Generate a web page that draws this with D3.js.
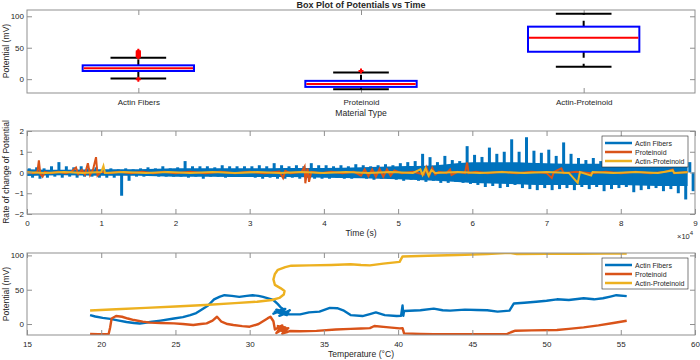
<!DOCTYPE html>
<html>
<head>
<meta charset="utf-8">
<script src="https://cdn.jsdelivr.net/npm/d3@7"></script>
<style>
  body { margin: 0; background: #fff; }
  text { font-family: "Liberation Sans", Arial, sans-serif; fill: #262626; }
</style>
</head>
<body>
<div id="chart"></div>
<script>
// ---- box plot data (mV) ----
const materials = ["Actin Fibers", "Proteinoid", "Actin-Proteinoid"];
const whiskerLow = [1, -16, 19.6];
const q1 = [13, -12.3, 43.6];
const median = [17.5, -7.5, 66];
const q3 = [22, -2.7, 83.5];
const whiskerHigh = [34, 10.7, 104];
const outliers = [[0, 35.5, 37, 38.5, 40, 41.5, 43, 44.5], [12.8], []];

// ---- rate of change: Actin Fibers, peak per 1000 s bin ----
const actinUpper = [
  0.2, 0.25, 0.2, 0.3, 0.5, 0.3, 0.25, 0.3, 0.2, 0.25,
  0.15, 0.2, 0.15, 0.2, 0.15, 0.2, 0.25, 0.2, 0.3, 0.2,
  0.25, 0.55, 0.3, 0.3, 0.3, 0.25, 0.35, 0.3, 0.3, 0.3,
  0.3, 0.35, 0.3, 0.45, 0.35, 0.3, 0.35, 0.3, 0.45, 0.35,
  0.35, 0.3, 0.35, 0.3, 0.4, 0.35, 0.3, 0.35, 0.4, 0.35,
  0.45, 0.5, 0.55, 0.9, 0.74, 0.5, 0.8, 0.6, 0.55, 1.27,
  0.85, 0.75, 1.2, 0.9, 1.0, 1.6, 1.0, 1.7, 1.05, 0.95,
  1.1, 0.8, 1.45, 0.9, 0.7, 0.6, 0.7, 0.55, 0.6, 0.5,
  0.6, 0.7, 0.55, 0.8, 0.6, 0.65, 1.0, 0.7, 0.8, 0.5
];
const actinLower = [
  -0.25, -0.3, -0.25, -0.2, -0.25, -0.2, -0.25, -0.2, -0.2, -0.25,
  -0.25, -0.25, -1.12, -0.4, -0.2, -0.2, -0.15, -0.2, -0.2, -0.2,
  -0.2, -0.25, -0.2, -0.3, -0.2, -0.2, -0.25, -0.2, -0.2, -0.2,
  -0.25, -0.3, -0.25, -0.3, -0.3, -0.25, -0.3, -0.25, -0.3, -0.3,
  -0.3, -0.25, -0.3, -0.3, -0.25, -0.3, -0.35, -0.3, -0.3, -0.35,
  -0.4, -0.35, -0.4, -0.45, -0.4, -0.5, -0.5, -0.45, -0.5, -0.55,
  -0.6, -0.7, -0.65, -0.75, -0.7, -0.6, -0.75, -0.8, -0.85, -0.75,
  -0.85, -0.8, -0.75, -0.85, -0.7, -0.8, -0.7, -0.9, -0.8, -0.75,
  -0.7, -0.95, -0.85, -0.8, -0.75, -0.9, -0.8, -1.0, -1.3, -0.9
];
// dense core of the Actin Fibers signal, per 5000 s
const actinCoreUpper = [0.16, 0.13, 0.16, 0.16, 0.2, 0.2, 0.2, 0.22, 0.22, 0.25, 0.3, 0.35, 0.5, 0.5, 0.45, 0.42, 0.42, 0.42];
const actinCoreLower = [-0.17, -0.13, -0.16, -0.16, -0.2, -0.2, -0.22, -0.22, -0.25, -0.28, -0.33, -0.4, -0.5, -0.55, -0.6, -0.6, -0.6, -0.65];
// [time (x1e4 s), rate]
const proteinoidRate = [
  [0.00, 0.02], [0.08, -0.03], [0.14, 0.03], [0.16, 0.58], [0.18, -0.08], [0.21, -0.2], [0.24, 0.03],
  [0.32, -0.03], [0.42, 0.03], [0.52, -0.03], [0.60, 0.04], [0.66, 0.24], [0.69, -0.08], [0.74, 0.12],
  [0.78, -0.1], [0.82, 0.45], [0.85, -0.12], [0.89, 0.15], [0.93, 0.74], [0.95, -0.15], [1.00, 0.03],
  [1.10, -0.03], [1.25, 0.03], [1.40, -0.03], [1.55, 0.03], [1.70, -0.03], [1.85, 0.03], [2.00, -0.03],
  [2.20, 0.03], [2.40, -0.03], [2.60, 0.03], [2.80, -0.03], [3.00, 0.03], [3.20, -0.03], [3.40, 0.04],
  [3.45, -0.27], [3.48, 0.08], [3.55, -0.03], [3.70, 0.03], [3.74, 0.29], [3.75, -0.52], [3.78, 0.2],
  [3.80, -0.45], [3.83, 0.03], [3.95, -0.03], [4.10, 0.03], [4.25, -0.03], [4.40, 0.04], [4.50, -0.15],
  [4.55, 0.15], [4.60, -0.18], [4.65, 0.15], [4.70, -0.2], [4.75, 0.18], [4.80, -0.2], [4.85, 0.15],
  [4.90, -0.15], [4.95, 0.1], [5.05, -0.03], [5.20, 0.03], [5.35, -0.1], [5.38, 0.25], [5.42, -0.15],
  [5.46, 0.22], [5.50, -0.1], [5.55, 0.03], [5.65, -0.03], [5.70, 0.15], [5.72, -0.12], [5.80, 0.03],
  [5.90, -0.03], [5.93, 0.48], [5.95, -0.03], [6.05, 0.03], [6.20, -0.03], [6.40, 0.03], [6.60, -0.03],
  [6.80, 0.03], [7.00, -0.03], [7.07, -0.26], [7.10, 0.03], [7.20, 0.2], [7.23, -0.03], [7.40, 0.03],
  [7.60, -0.03], [7.80, 0.03], [8.00, -0.03], [8.20, 0.03], [8.40, -0.03], [8.60, 0.03], [8.70, 0.15],
  [8.72, -0.03], [8.90, 0.02]
];
const actinProteinoidRate = [
  [0.00, 0.01], [0.25, -0.02], [0.5, 0.02], [0.75, -0.02], [1.0, 0.02], [1.03, 0.32], [1.05, -0.02],
  [1.3, 0.02], [1.6, -0.02], [1.9, 0.02], [2.2, -0.02], [2.5, 0.02], [2.8, -0.02], [3.1, 0.02],
  [3.4, -0.02], [3.7, 0.02], [4.0, -0.02], [4.3, 0.02], [4.6, -0.02], [4.9, 0.02], [5.2, -0.02],
  [5.3, 0.15], [5.33, -0.12], [5.37, 0.2], [5.41, -0.15], [5.45, 0.12], [5.5, -0.02], [5.8, 0.02],
  [6.1, -0.02], [6.4, 0.02], [6.7, -0.02], [7.0, 0.02], [7.3, -0.02], [7.42, -0.5], [7.45, 0.02],
  [7.6, -0.15], [7.62, 0.02], [7.9, -0.02], [8.2, 0.02], [8.5, -0.02], [8.7, 0.1], [8.72, -0.02],
  [8.9, 0.01]
];

// ---- potential vs temperature: [°C, mV] ----
const actinTemp = [
  [19.25, 13], [19.6, 11], [20.1, 9], [20.6, 7.5], [21.2, 5], [21.7, 3], [22.2, 1.5], [22.6, 0.8],
  [23.3, 3], [24.0, 5], [24.9, 8], [25.5, 10], [26.0, 13], [26.4, 16], [26.7, 20], [27.2, 27],
  [27.6, 36], [28.0, 40], [28.3, 42], [28.8, 41], [29.3, 39.5], [29.8, 41], [30.2, 42], [30.6, 41],
  [30.9, 39.5], [31.3, 37], [31.6, 35], [31.9, 29], [32.1, 24], [32.3, 21], [31.6, 15], [32.4, 22],
  [31.7, 18], [32.5, 13], [31.8, 21], [32.6, 17], [32.0, 12], [32.7, 20], [32.2, 15], [32.8, 14],
  [33.4, 14], [34.0, 17], [34.7, 18], [35.4, 23.5], [35.9, 23], [36.3, 20], [36.8, 13], [37.6, 11.6],
  [38.1, 14.5], [38.5, 17], [39.1, 13], [39.9, 11.6], [40.2, 12], [40.3, 27], [40.35, 12], [40.4, 19],
  [41.5, 20], [42.4, 22.5], [43.0, 20], [43.5, 19.5], [44.5, 21], [45.3, 20.5], [46.0, 20], [46.7, 18],
  [47.5, 19.5], [47.8, 30], [48.5, 31], [49.3, 32.5], [50.0, 34], [50.7, 36], [51.5, 35], [52.5, 37.5],
  [53.2, 36], [53.8, 37.5], [54.3, 40], [54.7, 42], [55.4, 40.7]
];
const proteinoidTemp = [
  [19.25, -14.5], [19.8, -14.8], [20.5, -14.5], [20.6, -5], [20.7, 8], [21.0, 11.6], [21.4, 10.6],
  [21.8, 8], [22.2, 5.8], [22.8, 3.5], [23.3, 2], [24.0, 1.5], [24.9, 1], [25.5, 0], [26.2, -1.5],
  [26.7, 0], [27.1, 1], [27.5, 5], [27.8, 10.6], [28.1, 3.4], [28.5, 0], [28.9, -1.5], [29.5, -3],
  [30.0, -3.9], [30.6, 0], [31.2, 8.2], [31.4, 10.6], [31.6, 4], [31.7, -8], [32.2, -2], [31.8, -13],
  [32.4, -5], [31.9, -3], [32.5, -12], [32.0, -9], [32.6, -6], [32.2, -14], [32.7, -10.2], [33.4, -10.5],
  [34.5, -10], [35.8, -8], [36.8, -7], [37.5, -6.5], [38.1, -6], [38.4, -2.9], [39.2, -4.5], [40.1, -6.3],
  [40.3, -6], [40.4, -13.6], [41.5, -14.5], [42.4, -15], [43.5, -14.8], [45.3, -15], [46.3, -14.8],
  [47.3, -15], [47.6, -12], [47.9, -9.7], [49.0, -9.2], [50.7, -8.7], [51.5, -7], [52.5, -4.9],
  [53.5, -2], [54.5, 1.5], [55.4, 4.8]
];
const actinProteinoidTemp = [
  [19.25, 19.6], [21, 21.5], [23, 23.5], [25, 25.5], [27, 27.8], [29, 30.5], [30.5, 32.5], [31.5, 35],
  [32.0, 38], [32.3, 43], [32.35, 48], [32.1, 52], [31.7, 57], [31.6, 65], [31.7, 73], [31.9, 79],
  [32.4, 83], [32.8, 85], [34, 85.5], [35.5, 86], [36.8, 87], [37.5, 86], [38.1, 85.5], [39, 88],
  [40.1, 90.5], [40.3, 98.5], [42, 99.5], [44, 100.5], [46, 102], [47.5, 103.7], [48, 102],
  [50, 102.3], [52, 102.5], [54, 102.7], [55.4, 102.8]
];

const seriesNames = ["Actin Fibers", "Proteinoid", "Actin-Proteinoid"];
const seriesColors = ["#0072BD", "#D95319", "#EDB120"];

const W = 700, H = 360;
const L = 27, R = 695;
const boxColor = "#8f8f8f";

const svg = d3.select("#chart").append("svg")
  .attr("width", W).attr("height", H);

function frame(g, top, bottom, xScale, yScale, xTicks, yTicks, xFmt, yFmt) {
  g.append("g")
    .attr("transform", `translate(0,${bottom})`)
    .call(d3.axisBottom(xScale).tickValues(xTicks).tickFormat(xFmt).tickSizeInner(-5).tickSizeOuter(0).tickPadding(6))
    .call(s => s.select(".domain").remove());
  g.append("g")
    .attr("transform", `translate(0,${top})`)
    .call(d3.axisTop(xScale).tickValues(xTicks).tickFormat("").tickSizeInner(-5).tickSizeOuter(0))
    .call(s => s.select(".domain").remove());
  g.append("g")
    .attr("transform", `translate(${L},0)`)
    .call(d3.axisLeft(yScale).tickValues(yTicks).tickFormat(yFmt).tickSizeInner(-5).tickSizeOuter(0).tickPadding(3))
    .call(s => s.select(".domain").remove());
  g.append("g")
    .attr("transform", `translate(${R},0)`)
    .call(d3.axisRight(yScale).tickValues(yTicks).tickFormat("").tickSizeInner(-5).tickSizeOuter(0))
    .call(s => s.select(".domain").remove());
  g.selectAll(".tick line").attr("stroke", boxColor);
  g.selectAll(".tick text").attr("font-size", 8).attr("fill", "#262626")
    .attr("font-family", "'Liberation Sans', Arial, sans-serif");
  g.append("rect")
    .attr("x", L).attr("y", top).attr("width", R - L).attr("height", bottom - top)
    .attr("fill", "none").attr("stroke", boxColor).attr("stroke-width", 1);
}

function ylabel(text, cy) {
  svg.append("text")
    .attr("transform", `translate(9,${cy}) rotate(-90)`)
    .attr("text-anchor", "middle").attr("font-size", 8.6).text(text);
}

function legend(x, y) {
  const lg = svg.append("g").attr("transform", `translate(${x},${y})`);
  lg.append("rect").attr("width", 86).attr("height", 31)
    .attr("fill", "#fff").attr("stroke", "#262626").attr("stroke-width", 0.6);
  seriesNames.forEach((n, i) => {
    const yy = 7 + i * 9;
    lg.append("line").attr("x1", 3).attr("x2", 30).attr("y1", yy).attr("y2", yy)
      .attr("stroke", seriesColors[i]).attr("stroke-width", 2.5);
    lg.append("text").attr("x", 33).attr("y", yy + 2.6).attr("font-size", 7).text(n);
  });
}

// ================= Panel 1: box plot =================
const p1 = svg.append("g");
const x1 = d3.scalePoint().domain(materials).range([L, R]).padding(0.5);
const y1 = d3.scaleLinear().domain([-22, 110]).range([93, 10]);
frame(p1, 10, 93, x1, y1, materials, [0, 50, 100], d => d, d3.format("d"));

const bw = x1.step() * 0.5;
const cw = bw * 0.5;
materials.forEach((m, i) => {
  const cx = x1(m);
  const g = p1.append("g");
  g.append("line").attr("x1", cx).attr("x2", cx).attr("y1", y1(q3[i])).attr("y2", y1(whiskerHigh[i]))
    .attr("stroke", "#000").attr("stroke-width", 2).attr("stroke-dasharray", "6,6");
  g.append("line").attr("x1", cx).attr("x2", cx).attr("y1", y1(q1[i])).attr("y2", y1(whiskerLow[i]))
    .attr("stroke", "#000").attr("stroke-width", 2).attr("stroke-dasharray", "6,6");
  g.append("line").attr("x1", cx - cw / 2).attr("x2", cx + cw / 2).attr("y1", y1(whiskerHigh[i])).attr("y2", y1(whiskerHigh[i]))
    .attr("stroke", "#000").attr("stroke-width", 2);
  g.append("line").attr("x1", cx - cw / 2).attr("x2", cx + cw / 2).attr("y1", y1(whiskerLow[i])).attr("y2", y1(whiskerLow[i]))
    .attr("stroke", "#000").attr("stroke-width", 2);
  g.append("rect").attr("x", cx - bw / 2).attr("width", bw)
    .attr("y", y1(q3[i])).attr("height", y1(q1[i]) - y1(q3[i]))
    .attr("fill", "none").attr("stroke", "#0000ff").attr("stroke-width", 2);
  g.append("line").attr("x1", cx - bw / 2 + 1).attr("x2", cx + bw / 2 - 1).attr("y1", y1(median[i])).attr("y2", y1(median[i]))
    .attr("stroke", "#ff0000").attr("stroke-width", 2);
  outliers[i].forEach(v => {
    const oy = y1(v);
    g.append("path").attr("d", `M${cx - 2.5},${oy}H${cx + 2.5}M${cx},${oy - 2.5}V${oy + 2.5}`)
      .attr("stroke", "#ff0000").attr("stroke-width", 2);
  });
});

svg.append("text").attr("x", 361).attr("y", 8).attr("text-anchor", "middle")
  .attr("font-size", 9).attr("font-weight", "bold").attr("fill", "#000").text("Box Plot of Potentials vs Time");
svg.append("text").attr("x", 361).attr("y", 116).attr("text-anchor", "middle")
  .attr("font-size", 8.6).text("Material Type");
ylabel("Potential (mV)", 51);

// ================= Panel 2: rate of change =================
const p2 = svg.append("g");
const x2 = d3.scaleLinear().domain([0, 90000]).range([L, R]);
const y2 = d3.scaleLinear().domain([-2, 2]).range([214, 131]);
svg.append("clipPath").attr("id", "clip2").append("rect")
  .attr("x", L).attr("y", 131).attr("width", R - L).attr("height", 83);

const lines2 = p2.append("g").attr("clip-path", "url(#clip2)");
// dense core band
const core = actinCoreUpper.map((u, i) => ({ t: i * 5000, hi: u, lo: actinCoreLower[i] }));
core.push({ t: 89000, hi: actinCoreUpper[17], lo: actinCoreLower[17] });
lines2.append("path").datum(core)
  .attr("d", d3.area().curve(d3.curveMonotoneX).x(d => x2(d.t)).y0(d => y2(d.lo)).y1(d => y2(d.hi)))
  .attr("fill", seriesColors[0]);
// spikes reaching the per-bin extremes
lines2.append("g").selectAll("line").data(actinUpper).join("line")
  .attr("x1", (d, i) => x2(i * 1000 + 300)).attr("x2", (d, i) => x2(i * 1000 + 300))
  .attr("y1", y2(0)).attr("y2", d => y2(d))
  .attr("stroke", seriesColors[0]).attr("stroke-width", 3);
lines2.append("g").selectAll("line").data(actinLower).join("line")
  .attr("x1", (d, i) => x2(i * 1000 + 750)).attr("x2", (d, i) => x2(i * 1000 + 750))
  .attr("y1", y2(0)).attr("y2", d => y2(d))
  .attr("stroke", seriesColors[0]).attr("stroke-width", 3);

const line2s = d3.line().x(d => x2(d[0] * 1e4)).y(d => y2(d[1]));
lines2.append("path").datum(proteinoidRate).attr("d", line2s)
  .attr("fill", "none").attr("stroke", seriesColors[1]).attr("stroke-width", 2);
lines2.append("path").datum(actinProteinoidRate).attr("d", line2s)
  .attr("fill", "none").attr("stroke", seriesColors[2]).attr("stroke-width", 2);

frame(p2, 131, 214, x2, y2, d3.range(0, 90001, 10000), [-2, -1, 0, 1, 2], d => d / 10000, d3.format("d"));
svg.append("text").attr("x", 361).attr("y", 236).attr("text-anchor", "middle")
  .attr("font-size", 8.6).text("Time (s)");
const ex = svg.append("text").attr("x", 677).attr("y", 239).attr("font-size", 7.5);
ex.append("tspan").text("×10");
ex.append("tspan").attr("dy", -4).attr("font-size", 6).text("4");
ylabel("Rate of change of Potential", 172);
legend(602, 136);

// ================= Panel 3: potential vs temperature =================
const p3 = svg.append("g");
const x3 = d3.scaleLinear().domain([15, 60]).range([L, R]);
const y3 = d3.scaleLinear().domain([-16, 103.5]).range([335, 253]);
svg.append("clipPath").attr("id", "clip3").append("rect")
  .attr("x", L).attr("y", 253).attr("width", R - L).attr("height", 82);
const line3 = d3.line().x(d => x3(d[0])).y(d => y3(d[1]));
const lines3 = p3.append("g").attr("clip-path", "url(#clip3)");
[actinTemp, proteinoidTemp, actinProteinoidTemp].forEach((s, i) => {
  lines3.append("path").datum(s).attr("d", line3)
    .attr("fill", "none").attr("stroke", seriesColors[i]).attr("stroke-width", 2.4)
    .attr("stroke-linejoin", "round");
});
frame(p3, 253, 335, x3, y3, d3.range(15, 61, 5), [0, 50, 100], d3.format("d"), d3.format("d"));
svg.append("text").attr("x", 361).attr("y", 357).attr("text-anchor", "middle")
  .attr("font-size", 8.6).text("Temperature (°C)");
ylabel("Potential (mV)", 294);
legend(602, 258);
</script>
</body>
</html>
